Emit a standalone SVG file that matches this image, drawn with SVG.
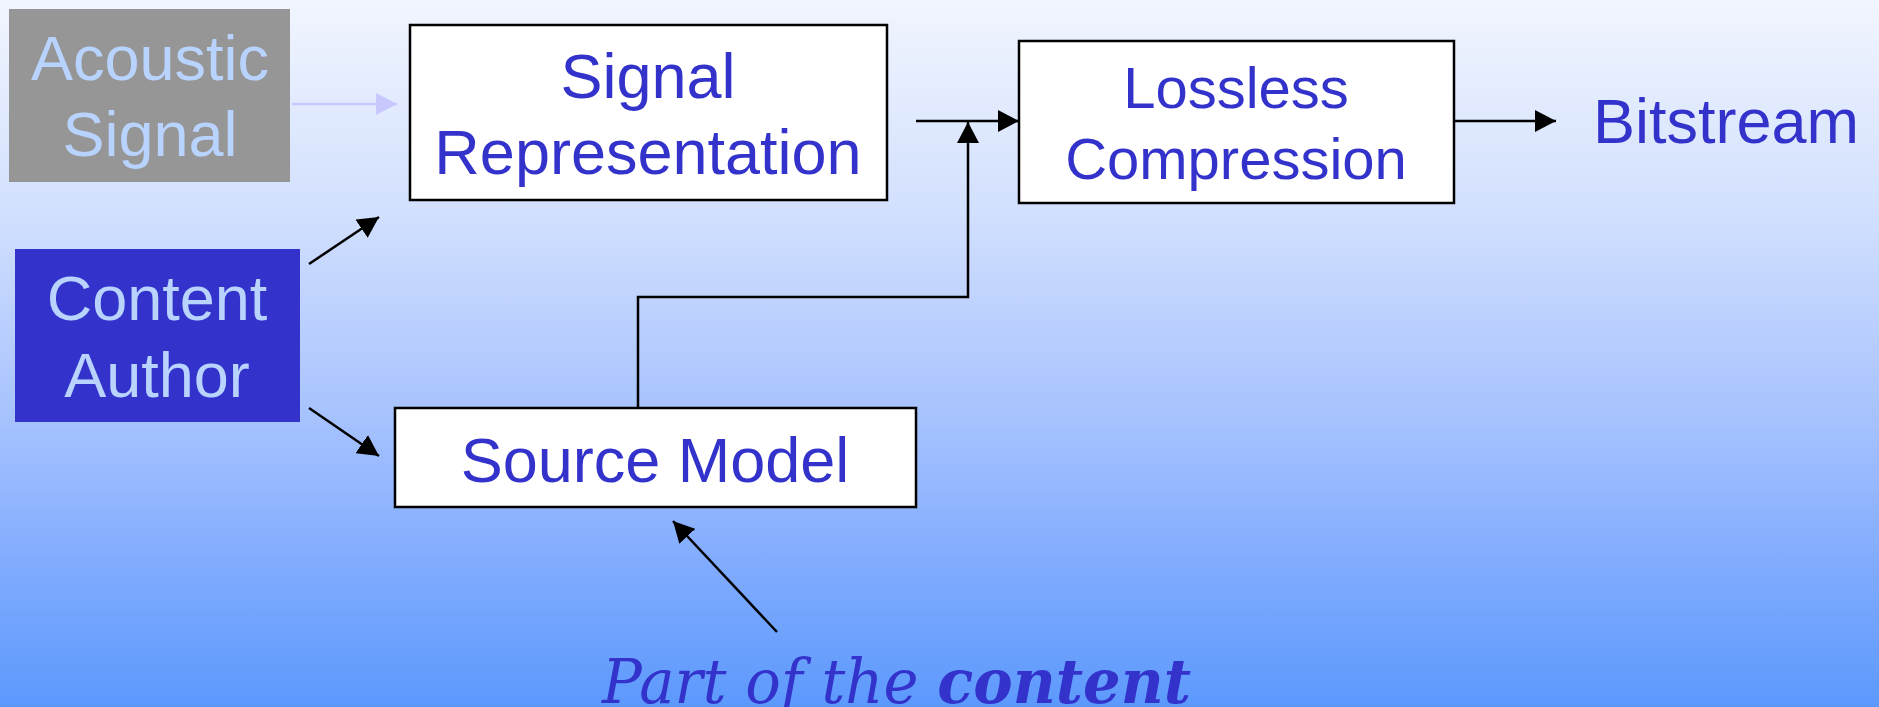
<svg xmlns="http://www.w3.org/2000/svg" width="1879" height="707" viewBox="0 0 1879 707">
<defs>
<linearGradient id="bg" x1="0" y1="0" x2="0" y2="1">
<stop offset="0" stop-color="#f1f5fe"/>
<stop offset="0.3" stop-color="#d2e0fe"/>
<stop offset="0.6" stop-color="#a5c1fe"/>
<stop offset="0.8" stop-color="#80abfe"/>
<stop offset="1" stop-color="#5c99fd"/>
</linearGradient>
<marker id="ah" viewBox="0 0 21 22" refX="21" refY="11" markerWidth="21" markerHeight="22" markerUnits="userSpaceOnUse" orient="auto"><path d="M0,0 L21,11 L0,22 z" fill="#000"/></marker>
<marker id="ahf" viewBox="0 0 21 22" refX="21" refY="11" markerWidth="21" markerHeight="22" markerUnits="userSpaceOnUse" orient="auto"><path d="M0,0 L21,11 L0,22 z" fill="#c8c8ff"/></marker>
</defs>
<style>
.box{fill:#fff;stroke:#000;stroke-width:2.5}
.t{font-family:"Liberation Sans",Arial,sans-serif;font-size:63px;text-anchor:middle}
.blue{fill:#3333cc}
.light{fill:#b9d3ff}
.c{fill:none;stroke:#000;stroke-width:2.5;marker-end:url(#ah)}
</style>
<rect x="0" y="0" width="1879" height="707" fill="url(#bg)"/>
<g id="acoustic">
<rect x="9" y="9" width="281" height="173" fill="#969696"/>
<text class="t light" x="150" y="80">Acoustic</text>
<text class="t light" x="150" y="156">Signal</text>
</g>
<g id="author">
<rect x="15" y="249" width="285" height="173" fill="#3333cc"/>
<text class="t light" x="157" y="320">Content</text>
<text class="t light" x="157" y="397">Author</text>
</g>
<g id="sigrep">
<rect class="box" x="410" y="25" width="477" height="175"/>
<text class="t blue" x="648" y="98">Signal</text>
<text class="t blue" x="648" y="174">Representation</text>
</g>
<g id="lossless">
<rect class="box" x="1019" y="41" width="435" height="162"/>
<text class="t blue" x="1236" y="108" style="font-size:58px">Lossless</text>
<text class="t blue" x="1236" y="179" style="font-size:58px">Compression</text>
</g>
<g id="source">
<rect class="box" x="395" y="408" width="521" height="99"/>
<text class="t blue" x="655" y="482">Source Model</text>
</g>
<g id="bitstream">
<text class="t blue" x="1593" y="143" style="text-anchor:start">Bitstream</text>
</g>
<g id="part">
<text x="602" y="703" textLength="589" lengthAdjust="spacingAndGlyphs" style="font-family:'DejaVu Serif',serif;font-size:62px;font-style:italic" fill="#3333cc">Part of the <tspan font-weight="bold">content</tspan></text>
</g>
<g id="connectors">
<line x1="292" y1="104" x2="397" y2="104" stroke="#c8c8ff" stroke-width="2.5" marker-end="url(#ahf)"/>
<line class="c" x1="916" y1="121" x2="1019" y2="121"/>
<polyline class="c" points="638,408 638,297 968,297 968,122"/>
<line class="c" x1="1454" y1="121" x2="1556" y2="121"/>
<line class="c" x1="309" y1="264" x2="379" y2="217"/>
<line class="c" x1="309" y1="408" x2="379" y2="456"/>
<line class="c" x1="777" y1="632" x2="673" y2="521"/>
</g>
</svg>
